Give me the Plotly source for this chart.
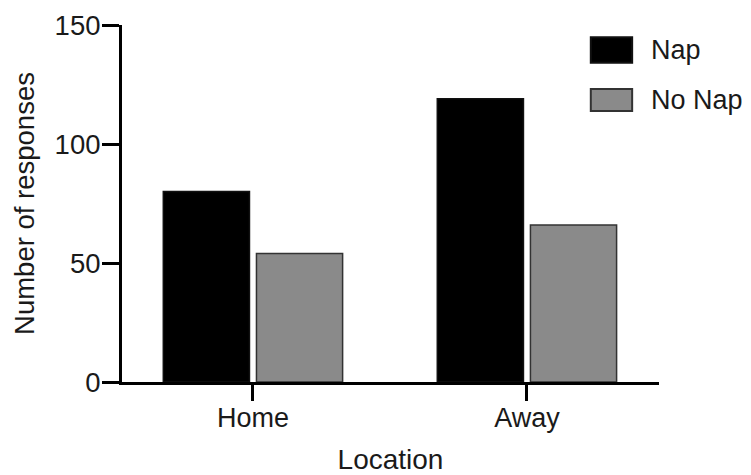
import plotly.graph_objects as go

categories = ["Home", "Away"]
series_names = ["Nap", "No Nap"]
nap_values = [80, 119]
no_nap_values = [54, 66]
y_tick_values = [0, 50, 100, 150]
y_tick_labels = ["0", "50", "100", "150"]

FONT = "Liberation Sans, Arial, Helvetica, sans-serif"
TXT = "#1a1a1a"
NAP_COLOR = "#000000"
NONAP_COLOR = "#8a8a8a"

fig = go.Figure()
fig.add_trace(go.Bar(
    x=categories, y=nap_values, name=series_names[0],
    marker=dict(color=NAP_COLOR, line=dict(color="#111111", width=1.5)),
    showlegend=False,
))
fig.add_trace(go.Bar(
    x=categories, y=no_nap_values, name=series_names[1],
    marker=dict(color=NONAP_COLOR, line=dict(color="#333333", width=1.5)),
    showlegend=False,
))

# Manual legend (large swatches like the reference)
legend_rows = [
    (series_names[0], NAP_COLOR, "#111111", 0.966, 0.894, 0.930),
    (series_names[1], NONAP_COLOR, "#333333", 0.821, 0.759, 0.790),
]
for name, fill, edge, y0, y1, ty in legend_rows:
    fig.add_shape(type="rect", xref="paper", yref="paper",
                  x0=0.873, x1=0.950, y0=y1, y1=y0,
                  fillcolor=fill, line=dict(color=edge, width=2))
    fig.add_annotation(xref="paper", yref="paper", x=0.982, y=ty,
                       text=name, showarrow=False, xanchor="left", yanchor="middle",
                       font=dict(family=FONT, size=27, color=TXT))

fig.update_layout(
    width=751, height=475,
    margin=dict(l=122, r=92, t=25, b=93),
    paper_bgcolor="white", plot_bgcolor="white",
    barmode="group", bargap=0.32, bargroupgap=0.075,
    showlegend=False,
    font=dict(family=FONT, color=TXT, size=27),
)
fig.update_xaxes(
    type="category", range=[-0.478, 1.482], automargin=False,
    showline=True, linecolor="black", linewidth=3,
    ticks="outside", ticklen=16, tickwidth=3, tickcolor="black",
    showgrid=False, zeroline=False, ticklabelstandoff=-6,
    tickfont=dict(family=FONT, size=27, color=TXT),
    title=dict(text="Location", font=dict(family=FONT, size=28, color=TXT), standoff=22),
)
fig.update_yaxes(
    range=[0, 150], tickvals=y_tick_values, ticktext=y_tick_labels, automargin=False,
    showline=True, linecolor="black", linewidth=3,
    ticks="outside", ticklen=17, tickwidth=3, tickcolor="black",
    showgrid=False, zeroline=False, ticklabelstandoff=-4,
    tickfont=dict(family=FONT, size=27.5, color=TXT),
    title=dict(text="Number of responses", font=dict(family=FONT, size=27.5, color=TXT), standoff=12),
)

fig.write_html("out.html", config={"displayModeBar": False},
               post_script="document.body.style.margin='0px';")
